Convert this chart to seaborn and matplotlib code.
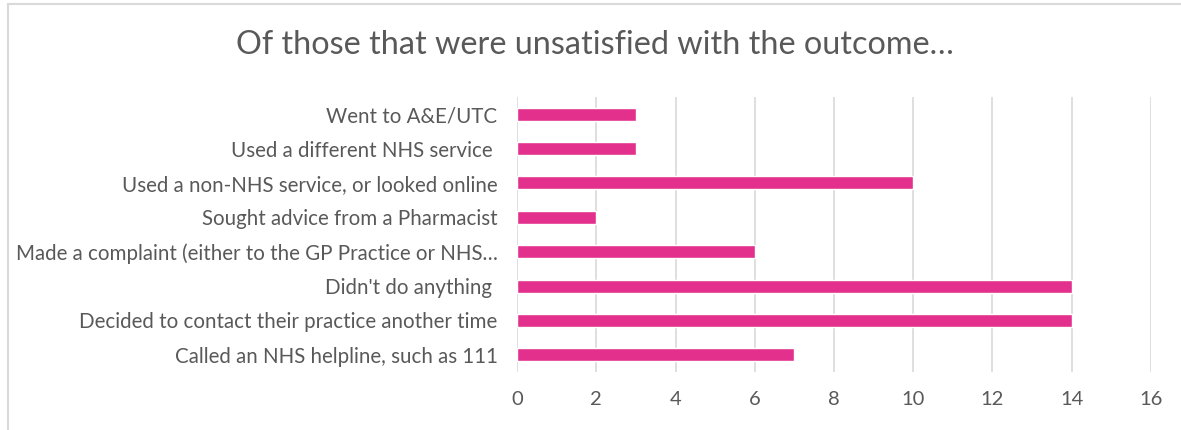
import matplotlib
matplotlib.use("Agg")
import matplotlib.pyplot as plt
import seaborn as sns
import pandas as pd
from matplotlib.lines import Line2D

categories = [
    "Went to A&E/UTC",
    "Used a different NHS service ",
    "Used a non-NHS service, or looked online",
    "Sought advice from a Pharmacist",
    "Made a complaint (either to the GP Practice or NHS…",
    "Didn't do anything ",
    "Decided to contact their practice another time",
    "Called an NHS helpline, such as 111",
]
values = [3, 3, 10, 2, 6, 14, 14, 7]
x_ticks = [0, 2, 4, 6, 8, 10, 12, 14, 16]
title = "Of those that were unsatisfied with the outcome…"

sns.set_style("white")
plt.rcParams["font.family"] = ["Lato", "DejaVu Sans"]

W, H = 1181, 430
fig = plt.figure(figsize=(W / 100, H / 100), dpi=100)
ax = fig.add_axes([517 / W, 58 / H, 634 / W, 275 / H])

df = pd.DataFrame({"category": categories, "value": values})
sns.barplot(data=df, x="value", y="category", orient="h", color="#E3308D",
            width=0.38, saturation=1, ax=ax)

text_col = "#595959"
ax.set_xlim(0, 16)
ax.set_xticks(x_ticks)
ax.set_xticklabels([str(t) for t in x_ticks])
ax.set_xlabel("")
ax.set_ylabel("")
ax.grid(axis="x", color="#D9D9D9", linewidth=1.2)
ax.set_axisbelow(True)
for s in ax.spines.values():
    s.set_visible(False)
ax.tick_params(axis="y", length=0, pad=14, labelsize=14.8, labelcolor=text_col)
ax.tick_params(axis="x", length=0, pad=14, labelsize=14.5, labelcolor=text_col)

fig.text(0.5 * (8 + W) / W, 1 - 45 / H, title, ha="center", va="center",
         fontsize=23.3, color=text_col)

fig.add_artist(Line2D([8 / W, 8 / W], [0, 1 - 4 / H], transform=fig.transFigure,
                      color="#D9D9D9", linewidth=1.5))
fig.add_artist(Line2D([8 / W, 1], [1 - 4 / H, 1 - 4 / H], transform=fig.transFigure,
                      color="#D9D9D9", linewidth=1.5))

fig.savefig("out.png", dpi=100, facecolor="white")
